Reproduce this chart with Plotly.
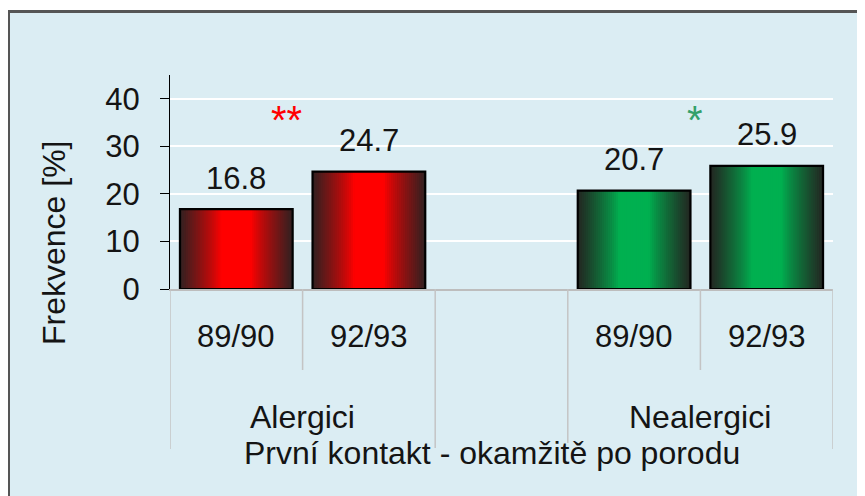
import plotly.graph_objects as go

# ---------------- data ----------------
groups = ["Alergici", "Nealergici"]
periods = ["89/90", "92/93"]
alergici = [16.8, 24.7]
nealergici = [20.7, 25.9]
significance = ["**", "*"]
x_title = "První kontakt - okamžitě po porodu"
y_title = "Frekvence [%]"
y_ticks = [0, 10, 20, 30, 40]

# ---------------- layout helpers ----------------
OFF = 8                                  # page body margin
WIN_W, WIN_H = 865, 496
W, H = WIN_W - OFF, WIN_H - OFF          # figure size
L, R, T, B = 170, 833, 75, 289           # plot area in window pixels


def px_x(px):
    return (px - L) / (R - L)


def px_y(py):
    return (B - py) / (B - T)


FONT = "Liberation Sans, Arial, sans-serif"
TXT = "#141414"
BG = "#DBEDF3"
FS_BIG = 32
FS_NUM = 31

series = [alergici, nealergici]
bright = [(255, 0, 0), (0, 176, 80)]
dark = [(52, 32, 32), (34, 40, 34)]
star_col = ["#FF0000", "#33A06A"]

xs, ys, bcol, dcol = [], [], [], []
for gi, vals in enumerate(series):
    for pi, v in enumerate(vals):
        xs.append(gi * 3 + pi)
        ys.append(v)
        bcol.append(bright[gi])
        dcol.append(dark[gi])

BW = 0.85
fig = go.Figure()

# gradient bars: overlaid layers from wide/dark to narrow/bright
N = 28
for k in range(N):
    f = 1.0 - k / N          # half-width fraction (distance from centre)
    t = max(0.0, min(1.0, (f - 0.28) / 0.72)) ** 0.85
    cols = []
    for b, d in zip(bcol, dcol):
        c = tuple(round(b[i] * (1 - t) + d[i] * t) for i in range(3))
        cols.append("rgb(%d,%d,%d)" % c)
    fig.add_trace(go.Bar(x=xs, y=ys, width=BW * f, marker=dict(color=cols, line=dict(width=0)),
                         hoverinfo="skip", showlegend=False))
# outline
fig.add_trace(go.Bar(x=xs, y=ys, width=BW,
                     marker=dict(color="rgba(0,0,0,0)", line=dict(color="#000000", width=2.2)),
                     hoverinfo="skip", showlegend=False))

ann = []
# value labels
for x, y in zip(xs, ys):
    ann.append(dict(x=x, y=y, xref="x", yref="y", text=f"{y:.1f}", showarrow=False,
                    yanchor="middle", yshift=31, font=dict(size=FS_NUM, color=TXT, family=FONT)))
# category tick labels
for i, x in enumerate(xs):
    ann.append(dict(x=x, y=px_y(336), xref="x", yref="paper", text=periods[i % 2], showarrow=False,
                    yanchor="middle", font=dict(size=FS_NUM, color=TXT, family=FONT)))
# group labels
for gi, g in enumerate(groups):
    ann.append(dict(x=gi * 3 + 0.5, y=px_y(417), xref="x", yref="paper", text=g, showarrow=False,
                    yanchor="middle", font=dict(size=FS_BIG, color=TXT, family=FONT)))
# significance stars
star_shift = [-16, -5]
for gi, s in enumerate(significance):
    ann.append(dict(x=gi * 3 + 0.5, y=px_y(120), xref="x", yref="paper", text=s, showarrow=False,
                    xshift=star_shift[gi], yanchor="middle",
                    font=dict(size=40, color=star_col[gi], family=FONT)))
# axis titles
ann.append(dict(x=px_x(492), y=px_y(453), xref="paper", yref="paper", text=x_title, showarrow=False,
                yanchor="middle", font=dict(size=FS_BIG, color=TXT, family=FONT)))
ann.append(dict(x=px_x(54), y=px_y(243), xref="paper", yref="paper", text=y_title, showarrow=False,
                textangle=-90, xanchor="center", yanchor="middle",
                font=dict(size=FS_BIG, color=TXT, family=FONT)))

shapes = []
# chart box background + border
shapes.append(dict(type="rect", xref="paper", yref="paper", layer="below",
                   x0=px_x(8.5), x1=px_x(WIN_W + 20), y0=px_y(WIN_H + 20), y1=px_y(11.5),
                   fillcolor=BG, line=dict(color="#555555", width=3)))
# category separators
seps = [(-0.5, 449), (0.5, 370), (1.5, 448), (2.5, 443), (3.5, 370), (4.5, 449)]
for sx, end in seps:
    shapes.append(dict(type="line", xref="x", yref="paper", x0=sx, x1=sx, y0=0, y1=px_y(end),
                       line=dict(color="#C4C4C4", width=1.5), layer="above"))

fig.update_layout(
    width=W, height=H,
    margin=dict(l=L - OFF, r=WIN_W - R, t=T - OFF, b=WIN_H - B, pad=0),
    paper_bgcolor="white",
    plot_bgcolor="rgba(0,0,0,0)",
    barmode="overlay",
    showlegend=False,
    annotations=ann,
    shapes=shapes,
    xaxis=dict(range=[-0.5, 4.5], showgrid=False, zeroline=False, showticklabels=False,
               showline=True, linecolor="#BDBDBD", linewidth=1.5, ticks=""),
    yaxis=dict(range=[0, 45], tickvals=y_ticks, showgrid=True, gridcolor="white", gridwidth=1.5,
               zeroline=False, showline=True, linecolor="#000000", linewidth=1.2,
               ticks="outside", ticklen=9, tickcolor="#000000", tickwidth=1.2,
               ticklabelstandoff=14,
               tickfont=dict(size=FS_NUM, color=TXT, family=FONT)),
)

fig.write_html("out.html")
